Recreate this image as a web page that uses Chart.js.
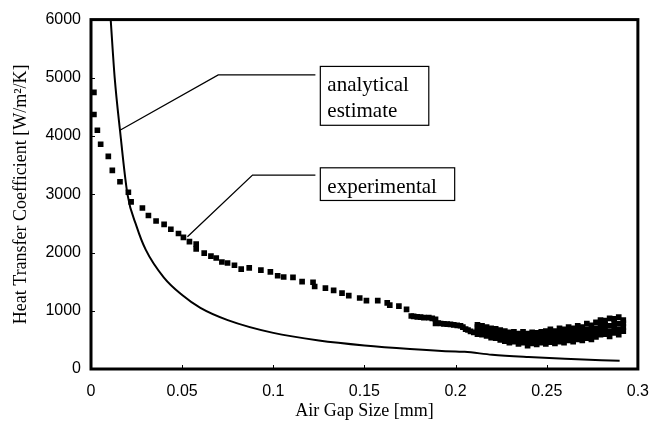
<!DOCTYPE html>
<html>
<head>
<meta charset="utf-8">
<script src="https://cdn.jsdelivr.net/npm/chart.js@4/dist/chart.umd.min.js"></script>
<style>
  html, body { margin: 0; padding: 0; background: #fff; }
  #wrap { width: 662px; height: 430px; }
</style>
</head>
<body>
<div id="wrap"><canvas id="gap-chart" width="662" height="430"></canvas></div>
<script>
// axis ticks
const gapTicks = [0, 0.05, 0.1, 0.15, 0.2, 0.25, 0.3];
const hTicks = [0, 1000, 2000, 3000, 4000, 5000, 6000];

// analytical estimate curve
const gapModel = [0.0108, 0.013, 0.0159, 0.02, 0.025, 0.03, 0.04, 0.05, 0.06, 0.075,
  0.1, 0.125, 0.15, 0.175, 0.2, 0.205, 0.22, 0.24, 0.26, 0.29];
const hModel = [6000, 5000, 4100, 3000, 2450, 2050, 1570, 1270, 1050, 840,
  620, 490, 405, 345, 300, 295, 245, 205, 175, 140];

// experimental points, sparse part
const gapExp = [
  0.0016, 0.0016, 0.0035, 0.0053, 0.0095, 0.0117, 0.0159, 0.0205, 0.022, 0.0282,
  0.0315, 0.0357, 0.0401, 0.0438, 0.048, 0.0507, 0.054, 0.0577, 0.0577, 0.0621,
  0.0658, 0.0687, 0.0718, 0.0749, 0.0787, 0.0824, 0.0868, 0.0932, 0.0984, 0.1024,
  0.1057, 0.1108, 0.1158, 0.1218, 0.1227, 0.1286, 0.1331, 0.1377, 0.1414, 0.1474,
  0.1511, 0.1573, 0.1625, 0.1639, 0.1689, 0.1731, 0.1757, 0.177, 0.179, 0.1808,
  0.1826, 0.1853, 0.1872, 0.189, 0.189, 0.1905, 0.1918, 0.1936, 0.1954, 0.1972,
  0.199, 0.2009, 0.2027, 0.204, 0.2055, 0.2068, 0.2082, 0.21
];
const hExp = [
  4750, 4370, 4100, 3860, 3650, 3410, 3215, 3035, 2870, 2765,
  2636, 2541, 2484, 2400, 2327, 2260, 2187, 2147, 2062, 1990,
  1939, 1906, 1838, 1821, 1782, 1715, 1737, 1697, 1669, 1602,
  1580, 1573, 1500, 1490, 1416, 1388, 1349, 1304, 1259, 1220,
  1175, 1175, 1135, 1096, 1079, 1023, 910, 905, 894, 890,
  882, 882, 870, 855, 781, 790, 781, 775, 770, 765,
  759, 750, 742, 720, 686, 670, 646, 630
];

// experimental points, dense scatter at the large gaps (4 readings per gap)
const gapScatter = [
  0.212, 0.2145, 0.217, 0.2195, 0.222, 0.2245, 0.227, 0.2295, 0.232, 0.2345,
  0.237, 0.2395, 0.242, 0.2445, 0.247, 0.2495, 0.252, 0.2545, 0.257, 0.2595,
  0.262, 0.2645, 0.267, 0.2695, 0.272, 0.2745, 0.277, 0.2795, 0.282, 0.2845,
  0.287, 0.2895, 0.292
];
const hScatter = [
  [600, 660, 720, 760], [590, 640, 700, 740], [570, 630, 680, 720], [540, 600, 650, 700],
  [530, 580, 640, 690], [500, 560, 620, 670], [480, 540, 600, 650], [450, 510, 570, 630],
  [470, 530, 590, 640], [430, 490, 550, 610], [450, 510, 570, 640], [400, 470, 540, 610],
  [440, 500, 560, 630], [420, 490, 560, 620], [450, 510, 570, 640], [430, 500, 570, 650],
  [460, 530, 600, 680], [440, 510, 580, 650], [470, 540, 620, 700], [450, 520, 600, 680],
  [490, 560, 640, 720], [470, 550, 630, 700], [510, 580, 660, 740], [490, 570, 650, 720],
  [530, 600, 680, 780], [510, 590, 670, 750], [550, 620, 700, 800], [590, 660, 740, 840],
  [600, 680, 760, 830], [560, 640, 740, 870], [620, 700, 780, 860], [590, 680, 780, 890],
  [650, 720, 790, 840]
];

// callout labels: leader line points and box corners in data units
const callouts = [
  {
    lines: ["analytical", "estimate"],
    leader: [[0.0159, 4100], [0.0698, 5050], [0.1231, 5050]],
    box: [0.1258, 5196, 0.1853, 4185]
  },
  {
    lines: ["experimental"],
    leader: [[0.0529, 2270], [0.0886, 3330], [0.1231, 3330]],
    box: [0.1258, 3455, 0.1995, 2894]
  }
];

const serif = "'Liberation Serif', 'Times New Roman', serif";
const sans = "'Liberation Sans', Arial, sans-serif";

const toPoints = (xs, ys) => xs.map((x, i) => ({ x: x, y: ys[i] }));

const expPoints = toPoints(gapExp, hExp);
gapScatter.forEach((g, i) => {
  hScatter[i].forEach((h) => expPoints.push({ x: g, y: h }));
});

// frame, inward ticks and callouts
const framePlugin = {
  id: "frame",
  afterDraw(chart) {
    const ctx = chart.ctx;
    const area = chart.chartArea;
    const xs = chart.scales.x;
    const ys = chart.scales.y;
    ctx.save();

    ctx.strokeStyle = "#000";
    ctx.lineWidth = 1;
    ctx.beginPath();
    gapTicks.forEach((v) => {
      const px = Math.round(xs.getPixelForValue(v)) + 0.5;
      ctx.moveTo(px, area.bottom);
      ctx.lineTo(px, area.bottom - 4);
    });
    hTicks.forEach((v) => {
      const py = Math.round(ys.getPixelForValue(v)) + 0.5;
      ctx.moveTo(area.left, py);
      ctx.lineTo(area.left + 4, py);
    });
    ctx.stroke();

    ctx.lineWidth = 3;
    ctx.strokeRect(area.left, area.top, area.right - area.left, area.bottom - area.top);

    callouts.forEach((c) => {
      ctx.lineWidth = 1.3;
      ctx.beginPath();
      c.leader.forEach((p, i) => {
        const px = xs.getPixelForValue(p[0]);
        const py = ys.getPixelForValue(p[1]);
        if (i === 0) ctx.moveTo(px, py);
        else ctx.lineTo(px, py);
      });
      ctx.stroke();

      const x0 = xs.getPixelForValue(c.box[0]);
      const y0 = ys.getPixelForValue(c.box[1]);
      const x1 = xs.getPixelForValue(c.box[2]);
      const y1 = ys.getPixelForValue(c.box[3]);
      ctx.fillStyle = "#fff";
      ctx.fillRect(x0, y0, x1 - x0, y1 - y0);
      ctx.lineWidth = 1.2;
      ctx.strokeRect(x0, y0, x1 - x0, y1 - y0);

      ctx.fillStyle = "#000";
      ctx.font = "21px " + serif;
      ctx.textAlign = "left";
      ctx.textBaseline = "alphabetic";
      c.lines.forEach((t, i) => {
        ctx.fillText(t, x0 + 7, y0 + 25 + i * 26);
      });
    });

    ctx.restore();
  }
};

const ctx = document.getElementById("gap-chart");

new Chart(ctx, {
  type: "scatter",
  data: {
    datasets: [
      {
        label: "analytical estimate",
        data: toPoints(gapModel, hModel),
        showLine: true,
        borderColor: "#000",
        borderWidth: 2,
        pointRadius: 0,
        cubicInterpolationMode: "monotone"
      },
      {
        label: "experimental",
        data: expPoints,
        backgroundColor: "#000",
        borderColor: "#000",
        borderWidth: 0,
        pointStyle: "rect",
        pointRadius: 4
      }
    ]
  },
  options: {
    responsive: false,
    animation: false,
    layout: { padding: { top: 12, right: 24, left: 0, bottom: 0 } },
    plugins: {
      legend: { display: false },
      tooltip: { enabled: false }
    },
    scales: {
      x: {
        type: "linear",
        min: 0,
        max: 0.3,
        afterFit: (scale) => { scale.height = 61; },
        afterBuildTicks: (scale) => { scale.ticks = gapTicks.map((v) => ({ value: v })); },
        grid: { display: false, drawTicks: false },
        border: { display: false },
        ticks: {
          color: "#000",
          padding: 13,
          maxRotation: 0,
          font: { family: sans, size: 16 },
          callback: (v) => String(+v.toFixed(2))
        },
        title: {
          display: true,
          text: "Air Gap Size [mm]",
          color: "#000",
          font: { family: serif, size: 18 },
          padding: { top: 0, bottom: 8 }
        }
      },
      y: {
        min: 0,
        max: 6000,
        afterFit: (scale) => { scale.width = 91; },
        afterBuildTicks: (scale) => { scale.ticks = hTicks.map((v) => ({ value: v })); },
        grid: { display: false, drawTicks: false },
        border: { display: false },
        ticks: {
          color: "#000",
          padding: 10,
          font: { family: sans, size: 16 },
          callback: (v) => String(v)
        },
        title: {
          display: true,
          text: "Heat Transfer Coefficient [W/m²/K]",
          color: "#000",
          font: { family: serif, size: 18 },
          padding: { top: 10, bottom: 0 }
        }
      }
    }
  },
  plugins: [framePlugin]
});
</script>
</body>
</html>
